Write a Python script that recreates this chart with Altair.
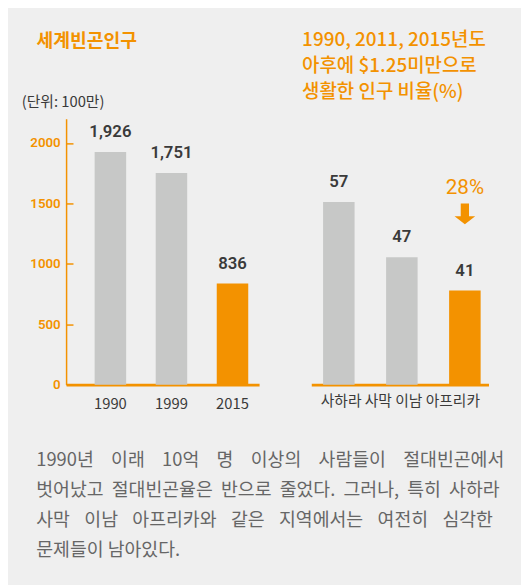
import altair as alt
import pandas as pd

# ---- data ----
years = ["1990", "1999", "2015"]
poor_millions = [1926, 1751, 836]
y_ticks = [0, 500, 1000, 1500, 2000]

ssa_years = ["1990", "2011", "2015"]
ssa_share = [57, 47, 41]
ssa_base = 24
ssa_change = "28%"

left_title = "세계빈곤인구"
unit_label = "(단위: 100만)"
right_title = ["1990, 2011, 2015년도", "아후에 $1.25미만으로", "생활한 인구 비율(%)"]
region_label = "사하라 사막 이남 아프리카"
paragraph_lines = [
    "1990년 이래 10억 명 이상의 사람들이 절대빈곤에서",
    "벗어났고 절대빈곤율은 반으로 줄었다. 그러나, 특히 사하라",
    "사막 이남 아프리카와 같은 지역에서는 여전히 심각한",
    "문제들이 남아있다.",
]
# word gaps that imitate the justified paragraph of the original
gaps = ["\u2002\u00a0\u00a0", "\u00a0\u00a0", "\u2002\u00a0\u200a", " "]
paragraph = [g.join(line.split(" ")) for line, g in zip(paragraph_lines, gaps)]

# ---- style ----
ORANGE = "#f39200"
GRAY = "#c7c8c7"
BG = "#efefef"
DARK = "#3a3a3a"
KR = "Noto Sans CJK KR"
W, H = 521, 577
BASE_Y = 378

left_df = pd.DataFrame({"year": years, "value": poor_millions})
right_df = pd.DataFrame({"year": ssa_years, "value": ssa_share})
one = pd.DataFrame({"k": [0]})

# ---- left panel ----
xl = alt.X(
    "year:N", sort=years,
    scale=alt.Scale(range=[59, 255], paddingInner=0.4839, paddingOuter=0.3226, align=0.725),
    axis=alt.Axis(orient="bottom", offset=BASE_Y - H, title=None, ticks=False,
                  domainColor=ORANGE, domainWidth=3, labelAngle=0, labelFont=KR,
                  labelFontSize=15, labelColor=DARK, labelPadding=12),
)
yl = alt.Y(
    "value:Q",
    scale=alt.Scale(domain=[0, 2200], range=[BASE_Y, 108], nice=False, zero=True),
    axis=alt.Axis(orient="right", offset=59 - W, values=y_ticks, format="d", grid=False,
                  title=None, domainColor=ORANGE, domainWidth=1.5, tickColor=ORANGE,
                  tickWidth=1.5, tickSize=7, labelAlign="right", labelPadding=-13,
                  labelBaseline="middle", labelColor=ORANGE, labelFont="Roboto",
                  labelFontSize=13.5, labelFontWeight=600),
)
left_bars = alt.Chart(left_df).mark_bar().encode(
    x=xl, y=yl,
    color=alt.condition(alt.datum.year == years[-1], alt.value(ORANGE), alt.value(GRAY)),
)
left_text = alt.Chart(left_df).mark_text(
    dy=-15, baseline="alphabetic", font="Roboto", fontSize=17, fontWeight=600, color=DARK
).encode(x=xl, y=yl, text=alt.Text("value:Q", format=","))
left = alt.layer(left_bars, left_text)

# ---- right panel ----
xr = alt.X(
    "year:N", sort=ssa_years,
    scale=alt.Scale(range=[308, 488], paddingInner=0.5, paddingOuter=0.15625, align=0.6),
    axis=alt.Axis(orient="bottom", offset=BASE_Y - H, labels=False, ticks=False,
                  domainColor=ORANGE, domainWidth=3, title=region_label, titleFont=KR,
                  titleFontSize=15, titleFontWeight="normal", titleColor=DARK, titlePadding=9),
)
yr = alt.Y("value:Q", scale=alt.Scale(domain=[ssa_base, 57], range=[BASE_Y, 192.4],
                                      nice=False, zero=False), axis=None)
right_bars = alt.Chart(right_df).mark_bar().encode(
    x=xr, y=yr, y2=alt.datum(ssa_base),
    color=alt.condition(alt.datum.year == ssa_years[-1], alt.value(ORANGE), alt.value(GRAY)),
)
right_text = alt.Chart(right_df).mark_text(
    dy=-15, baseline="alphabetic", font="Roboto", fontSize=17, fontWeight=600, color=DARK
).encode(x=xr, y=yr, text="value:Q")
change_df = pd.DataFrame({"year": [ssa_years[-1]], "label": [ssa_change]})
change_text = alt.Chart(change_df).mark_text(
    baseline="alphabetic", font="Roboto", fontSize=21, color=ORANGE
).encode(x=xr, y=alt.value(184), text="label:N")
arrow_path = "M-0.4,-1L0.4,-1L0.4,0.24L1,0.24L0,1L-1,0.24L-0.4,0.24Z"
change_arrow = alt.Chart(change_df).mark_point(
    shape=arrow_path, filled=True, size=441, color=ORANGE, opacity=1
).encode(x=xr, y=alt.value(204.5))
right = alt.layer(right_bars, right_text, change_text, change_arrow)

# ---- annotations ----
t_left = alt.Chart(one).mark_text(
    text=left_title, align="left", baseline="alphabetic", font=KR, fontSize=18.5,
    fontWeight="bold", color=ORANGE
).encode(x=alt.value(29), y=alt.value(35))
t_unit = alt.Chart(one).mark_text(
    text=unit_label, align="left", baseline="alphabetic", font=KR, fontSize=15, color=DARK
).encode(x=alt.value(14), y=alt.value(96.5))
t_right = alt.Chart(one).mark_text(
    text=right_title, align="left", baseline="alphabetic", font=KR, fontSize=19.2,
    fontWeight=500, color=ORANGE, lineHeight=26
).encode(x=alt.value(298.7), y=alt.value(34.5))
t_para = alt.Chart(one).mark_text(
    text=paragraph, align="left", baseline="alphabetic", font=KR, fontSize=18.6,
    color="#666666", lineHeight=30.5
).encode(x=alt.value(28.7), y=alt.value(460.5))

chart = (
    alt.layer(left, right, t_left, t_unit, t_right, t_para)
    .resolve_scale(x="independent", y="independent")
    .properties(width=W, height=H, autosize=alt.AutoSizeParams(type="none"), padding=0,
                background=BG)
    .configure_view(strokeWidth=0)
)

chart.save("out.html", embed_options={"renderer": "svg", "actions": False})
